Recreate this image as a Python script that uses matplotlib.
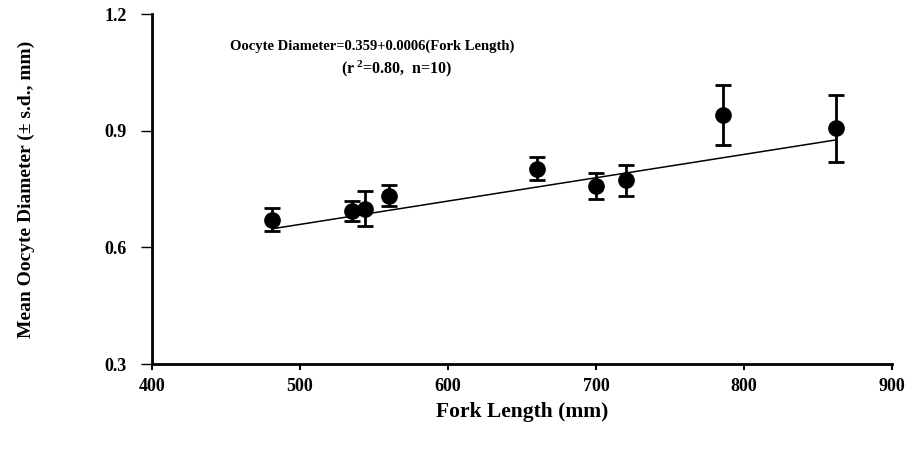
import matplotlib.pyplot as plt
import numpy as np

plt.rcParams['font.family'] = ['Liberation Serif', 'DejaVu Serif']
plt.rcParams['font.weight'] = 'bold'
plt.rcParams['mathtext.fontset'] = 'custom'
plt.rcParams['mathtext.rm'] = 'Liberation Serif:bold'
plt.rcParams['mathtext.it'] = 'Liberation Serif:bold'
plt.rcParams['mathtext.bf'] = 'Liberation Serif:bold'

# mean oocyte diameter by fork length, with standard deviations
fork_length = [481, 535, 544, 560, 660, 700, 720, 786, 862]
diameter = [0.671, 0.693, 0.699, 0.733, 0.802, 0.757, 0.772, 0.940, 0.906]
diameter_sd = [0.030, 0.026, 0.045, 0.027, 0.030, 0.033, 0.041, 0.078, 0.087]

# regression coefficients
intercept = 0.359
slope = 0.0006

x_ticks = [400, 500, 600, 700, 800, 900]
y_ticks = [0.3, 0.6, 0.9, 1.2]

fig = plt.figure(figsize=(9.07, 4.49), dpi=100)
ax = fig.add_axes([0.1676, 0.1893, 0.8159, 0.7795])

xs = np.array([min(fork_length), max(fork_length)])
ax.plot(xs, intercept + slope * xs, color='black', lw=1.1, zorder=2)

ax.errorbar(fork_length, diameter, yerr=diameter_sd, fmt='o', color='black',
            ms=11, elinewidth=2, capsize=6, capthick=2, zorder=3)

ax.set_xlim(400, 900)
ax.set_ylim(0.3, 1.2)
ax.set_xticks(x_ticks)
ax.set_yticks(y_ticks)
ax.set_yticklabels([f'{v:.1f}' for v in y_ticks])

for side in ['top', 'right']:
    ax.spines[side].set_visible(False)
for side in ['left', 'bottom']:
    ax.spines[side].set_linewidth(2)

ax.tick_params(axis='y', direction='out', length=8, width=1, labelsize=13, pad=10)
ax.tick_params(axis='x', direction='out', length=4, width=1.5, labelsize=13, pad=6)

ax.set_xlabel('Fork Length (mm)', fontsize=15.5, fontweight='bold', labelpad=5)
ax.set_ylabel('Mean Oocyte Diameter (± s.d., mm)', fontsize=14, fontweight='bold', labelpad=50)

ax.text(549, 1.118, 'Oocyte Diameter=0.359+0.0006(Fork Length)', ha='center', va='center',
        fontsize=10.5, fontweight='bold')
ax.text(565, 1.060, r'(r$^{\;2}$=0.80,  n=10)', ha='center', va='center',
        fontsize=11.5, fontweight='bold')

fig.savefig('out.png', dpi=100)
